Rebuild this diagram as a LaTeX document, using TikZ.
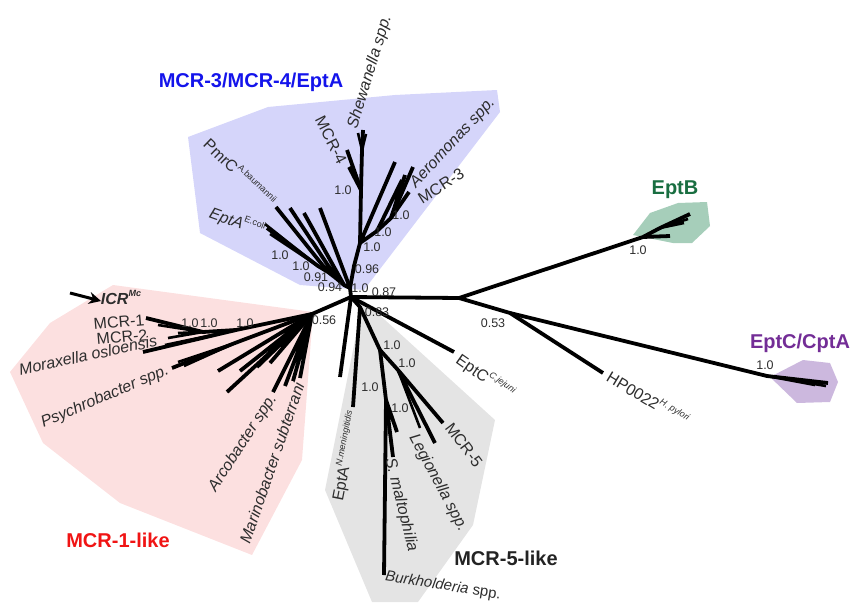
\documentclass[tikz,border=0pt]{standalone}
\usepackage{fontspec}
\setmainfont{Liberation Sans}
\usetikzlibrary{arrows.meta}
\definecolor{bluefill}{RGB}{213,213,250}
\definecolor{pinkfill}{RGB}{252,224,224}
\definecolor{grayfill}{RGB}{228,228,228}
\definecolor{greenfill}{RGB}{166,206,186}
\definecolor{purplefill}{RGB}{204,184,222}
\definecolor{bluelab}{RGB}{20,20,235}
\definecolor{redlab}{RGB}{240,20,20}
\definecolor{greenlab}{RGB}{25,110,65}
\definecolor{purplelab}{RGB}{115,45,150}
\definecolor{darklab}{RGB}{35,35,35}
\definecolor{txt}{RGB}{45,45,45}
\newcommand\tsup[1]{\raisebox{0.5em}{\fontsize{9}{9}\selectfont #1}}
\begin{document}
\begin{tikzpicture}[x=1pt,y=-1pt,
 br/.style={line width=3.8pt,line join=round},
 tw/.style={line width=2.6pt},
 lab/.style={font=\fontsize{16}{16}\selectfont,text=txt,inner sep=0pt},
 sp/.style={font=\fontsize{16}{16}\selectfont\itshape,text=txt,inner sep=0pt},
 bs/.style={font=\fontsize{12.5}{12.5}\selectfont,text=txt,inner sep=0pt},
 grp/.style={font=\fontsize{20}{20}\selectfont\bfseries,inner sep=0pt}]
\path[use as bounding box] (0,0) rectangle (853,602);

% clade areas
\fill[bluefill] (188,137) -- (268,107) -- (395,95) -- (497,90) -- (500,112) -- (364,290) -- (300,285) -- (200,233) -- cycle;
\fill[pinkfill] (10,372) -- (50,323) -- (113,285) -- (313,312) -- (302,460) -- (252,555) -- (120,503) -- (43,443) -- cycle;
\fill[grayfill] (363,300) -- (495,420) -- (473,525) -- (418,602) -- (372,602) -- (325,490) -- cycle;
\fill[greenfill] (633,235) -- (650,213) -- (678,203) -- (707,202) -- (710,226) -- (692,243) -- (673,243) -- cycle;
\fill[purplefill] (770,377) -- (803,360) -- (830,363) -- (838,382) -- (830,402) -- (797,403) -- cycle;

% coordinates
\coordinate (c0) at (351,297);
\coordinate (bb) at (350,288);
\coordinate (b1) at (354,266);
\coordinate (b2) at (360,243);
\coordinate (b3) at (377,231);
\coordinate (b4) at (391,218);
\coordinate (b5) at (361,190);
\coordinate (b6) at (362,150);
\coordinate (tsh1) at (358,133);
\coordinate (tsh2) at (363,130);
\coordinate (tsh3) at (366,134);
\coordinate (tm4a) at (347,150);
\coordinate (tm4b) at (349,167);
\coordinate (ta1) at (395,162);
\coordinate (ta2) at (413,167);
\coordinate (ta3) at (405,175);
\coordinate (ta4) at (402,180);
\coordinate (tm3) at (409,192);
\coordinate (bl1) at (344,285);
\coordinate (bl2) at (337,279);
\coordinate (bl3) at (328,272);
\coordinate (bl4) at (318,266);
\coordinate (tl1) at (320,208);
\coordinate (tl2) at (304,213);
\coordinate (tl3) at (290,208);
\coordinate (tpm) at (276,207);
\coordinate (tec) at (267,228);
\coordinate (tec1) at (265,224);
\coordinate (tec3) at (270,234);

\coordinate (p0) at (312,314);
\coordinate (a1) at (236,330);
\coordinate (a2) at (203,332);
\coordinate (tmc1) at (146,318);
\coordinate (tmc1b) at (158,325);
\coordinate (tmc2) at (168,338);
\coordinate (tmc2b) at (178,333);
\coordinate (tmo) at (143,352);
\coordinate (tmo2) at (165,345);
\coordinate (ps0) at (235,343);
\coordinate (tps) at (172,368);
\coordinate (tps2) at (178,362);
\coordinate (tps3) at (184,366);
\coordinate (t5) at (218,371);
\coordinate (t6) at (227,392);
\coordinate (t7) at (240,371);
\coordinate (t8) at (257,367);
\coordinate (t9) at (270,363);
\coordinate (tar) at (273,392);
\coordinate (t11) at (285,386);
\coordinate (t12) at (293,381);
\coordinate (t13) at (300,378);
\coordinate (arrS) at (70,293);
\coordinate (arrE) at (101,301);

\coordinate (u0) at (340,377);
\coordinate (g0) at (360,307);
\coordinate (tnm) at (353,407);
\coordinate (ga) at (380,350);
\coordinate (gc) at (386,400);
\coordinate (tbu) at (384,575);
\coordinate (tsm) at (393,457);
\coordinate (tsm2) at (397,432);
\coordinate (gb) at (398,370);
\coordinate (tm5) at (443,423);
\coordinate (tle) at (435,443);
\coordinate (tle2) at (420,428);
\coordinate (tep) at (454,352);

\coordinate (r0) at (459,298);
\coordinate (e0) at (643,237);
\coordinate (e1) at (660,228);
\coordinate (teb) at (690,214);
\coordinate (teb1) at (688,219);
\coordinate (teb3) at (684,223);
\coordinate (teb2) at (670,236);
\coordinate (r1) at (510,313);
\coordinate (thp) at (603,373);
\coordinate (f0) at (767,376);
\coordinate (tcp) at (828,383);
\coordinate (tcp1) at (826,386);
\coordinate (tcp2) at (815,385);

% blue clade branches
\draw[br] (c0) -- (bb) -- (b1) -- (b2) -- (b5) -- (b6) -- (tsh2);
\draw[tw] (b6) -- (tsh1) (b6) -- (tsh3);
\draw[br] (b5) -- (tm4a) (b5) -- (tm4b);
\draw[br] (b2) -- (ta1) (b2) -- (b3) -- (b4) -- (ta2);
\draw[br] (b4) -- (ta3) (b4) -- (tm3) (b3) -- (ta4);
\draw[br] (bb) -- (tl1) (bb) -- (bl1) -- (bl2) -- (bl3) -- (bl4) -- (tec);
\draw[br] (bl1) -- (tl2) (bl2) -- (tl3) (bl3) -- (tpm);
\draw[tw] (bl4) -- (tec1) (bl4) -- (tec3);

% MCR-1 clade branches
\draw[br] (c0) -- (p0) -- (a1) -- (a2) -- (tmc1);
\draw[tw] (a2) -- (tmc1b) (a2) -- (tmc2) (a2) -- (tmc2b) (a1) -- (tmo2);
\draw[br] (a1) -- (tmo);
\draw[br] (p0) -- (ps0) -- (tps);
\draw[tw] (ps0) -- (tps2) (ps0) -- (tps3);
\draw[br] (p0) -- (t5) (p0) -- (t6) (p0) -- (t7) (p0) -- (t8) (p0) -- (t9);
\draw[br] (p0) -- (tar) (p0) -- (t11) (p0) -- (t12) (p0) -- (t13);
\draw[-{Stealth[length=12pt,width=12pt]},line width=3pt] (arrS) -- (arrE);

% MCR-5 clade branches
\draw[br] (c0) -- (u0);
\draw[br] (c0) -- (g0) -- (tnm);
\draw[br] (g0) -- (ga) -- (gc) -- (tbu);
\draw[br] (gc) -- (tsm) (gc) -- (tsm2);
\draw[br] (ga) -- (gb) -- (tm5) (gb) -- (tle);
\draw[tw] (gb) -- (tle2);
\draw[br] (c0) -- (tep);

% right branches
\draw[br] (c0) -- (r0) -- (e0) -- (e1) -- (teb);
\draw[tw] (e1) -- (teb1) (e1) -- (teb3);
\draw[br] (e0) -- (teb2);
\draw[br] (r0) -- (r1) -- (thp);
\draw[br] (r1) -- (f0) -- (tcp);
\draw[tw] (f0) -- (tcp1) (f0) -- (tcp2);

% group labels
\node[grp,text=bluelab] (gMCR3) at (251,82) {MCR-3/MCR-4/EptA};
\node[grp,text=redlab] (gMCR1) at (118,540) {MCR-1-like};
\node[grp,text=darklab] (gMCR5) at (506,558) {MCR-5-like};
\node[grp,text=greenlab] (gEptB) at (675,190) {EptB};
\node[grp,text=purplelab] (gEptC) at (800,343) {EptC/CptA};

% leaf labels
\node[lab,rotate=-44] (lPmrC) at (240,172) {PmrC\tsup{A.baumannii}};
\node[lab,rotate=-20] (lEptAec) at (237,222) {\textit{EptA}\tsup{E.coli}};
\node[lab,rotate=-63] (lMCR4) at (331,140) {MCR-4};
\node[sp,rotate=73] (lShew) at (370,72) {Shewanella spp.};
\node[sp,rotate=47] (lAero) at (453,143) {Aeromonas spp.};
\node[lab,rotate=32] (lMCR3) at (441,186) {MCR-3};
\node[lab] (lICR) at (121,297) {\textbf{\textit{ICR}}\tsup{\textbf{\textit{Mc}}}};
\node[lab,rotate=5] (lMCR1) at (119,322) {MCR-1};
\node[lab,rotate=5] (lMCR2) at (122,337) {MCR-2};
\node[sp,rotate=12] (lMora) at (88,355) {Moraxella osloensis};
\node[sp,rotate=23] (lPsy) at (105,397) {Psychrobacter spp.};
\node[sp,rotate=57] (lArco) at (243,443) {Arcobacter spp.};
\node[sp,rotate=71] (lMari) at (272,463) {Marinobacter subterrani};
\node[lab,rotate=79] (lEptAnm) at (346,456) {EptA\tsup{\itshape N.meningitidis}};
\node[sp,rotate=-76] (lSmal) at (401,505) {S. maltophilia};
\node[sp,rotate=-62] (lLeg) at (438,483) {Legionella spp.};
\node[lab,rotate=-53] (lMCR5) at (464,445) {MCR-5};
\node[lab,rotate=-9,font=\fontsize{15}{15}\selectfont] (lBurk) at (443,586) {\textit{Burkholderia} spp.};
\node[lab,rotate=-35] (lEptC) at (485,377) {EptC\tsup{\itshape C.jejuni}};
\node[lab,rotate=-31] (lHP) at (648,398) {HP0022\tsup{\itshape H. pylori}};

% support values
\node[bs] (s1) at (372,247) {1.0};
\node[bs] (s2) at (383,232) {1.0};
\node[bs] (s3) at (401,215) {1.0};
\node[bs] (s4) at (343,190) {1.0};
\node[bs] (s5) at (367,269) {0.96};
\node[bs] (s6) at (280,255) {1.0};
\node[bs] (s7) at (301,266) {1.0};
\node[bs] (s8) at (316,277) {0.91};
\node[bs] (s9) at (330,287) {0.94};
\node[bs] (s10) at (360,288) {1.0};
\node[bs] (s11) at (384,292) {0.87};
\node[bs] (s12) at (190,323) {1.0};
\node[bs] (s13) at (209,323) {1.0};
\node[bs] (s14) at (245,323) {1.0};
\node[bs] (s15) at (324,320) {0.56};
\node[bs] (s16) at (377,312) {0.83};
\node[bs] (s17) at (392,345) {1.0};
\node[bs] (s18) at (407,363) {1.0};
\node[bs] (s19) at (370,387) {1.0};
\node[bs] (s20) at (400,408) {1.0};
\node[bs] (s21) at (493,323) {0.53};
\node[bs] (s22) at (638,250) {1.0};
\node[bs] (s23) at (765,365) {1.0};
\end{tikzpicture}
\end{document}
